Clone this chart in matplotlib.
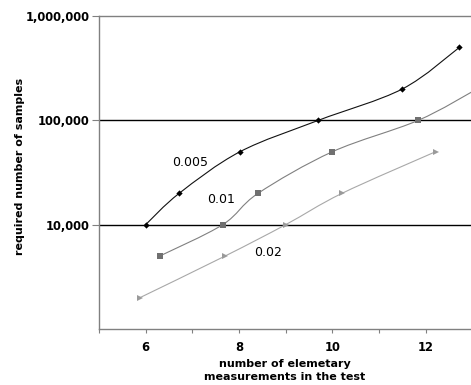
import numpy as np
import matplotlib
matplotlib.use("Agg")
import matplotlib.pyplot as plt
from matplotlib.path import Path
from matplotlib.patches import PathPatch
from matplotlib.ticker import FixedLocator, FuncFormatter, NullLocator

# valores
x_005 = [6.0, 6.72, 8.02, 9.7, 11.5, 12.72]
y_005 = [10000, 20000, 50000, 100000, 200000, 500000]
x_01 = [6.3, 7.65, 8.41, 10.0, 11.84, 13.1]
y_01 = [5000, 10000, 20000, 50000, 100000, 200000]
x_02 = [5.88, 7.7, 9.0, 10.21, 12.21]
y_02 = [2000, 5000, 10000, 20000, 50000]
series_labels = ["0.005", "0.01", "0.02"]
y_ticks = [10000, 100000, 1000000]
x_labeled = [6, 8, 10, 12]


def curva_suave(xs, ys):
    # linha suavizada (estilo Excel) com Bezier em (x, log y)
    pts = np.column_stack([xs, np.log10(ys)])
    verts = [pts[0]]
    codes = [Path.MOVETO]
    n = len(pts)
    for i in range(n - 1):
        p0 = pts[i - 1] if i > 0 else pts[i]
        p1 = pts[i]
        p2 = pts[i + 1]
        p3 = pts[i + 2] if i + 2 < n else pts[i + 1]
        verts += [p1 + (p2 - p0) / 6, p2 - (p3 - p1) / 6, p2]
        codes += [Path.CURVE4] * 3
    verts = np.array(verts)
    verts[:, 1] = 10 ** verts[:, 1]
    return Path(verts, codes)


fig = plt.figure(figsize=(4.71, 3.85), dpi=100)
ax = fig.add_axes([0.2102, 0.1455, 0.7898, 0.8129])
ax.set_yscale("log")
ax.set_xlim(5, 12.97)
ax.set_ylim(1000, 1000000)

ax.axhline(10000, color="black", lw=1.0, zorder=1)
ax.axhline(100000, color="black", lw=1.0, zorder=1)

estilos = [
    (x_005, y_005, "#111111", "#000000", "D", 3.2),
    (x_01, y_01, "#808080", "#707070", "s", 4.5),
    (x_02, y_02, "#a8a8a8", "#9a9a9a", ">", 4.5),
]
for xs, ys, cor_linha, cor_marca, marca, tam in estilos:
    ax.add_patch(PathPatch(curva_suave(xs, ys), fill=False, edgecolor=cor_linha,
                           lw=0.8, zorder=2))
    ax.plot(xs, ys, ls="none", marker=marca, ms=tam, color=cor_marca,
            markeredgewidth=0, zorder=3)

ax.text(6.95, 39000, series_labels[0], fontsize=9, ha="center", va="center")
ax.text(7.62, 17250, series_labels[1], fontsize=9, ha="center", va="center")
ax.text(8.62, 5350, series_labels[2], fontsize=9, ha="center", va="center")

for lado in ["left", "bottom", "top"]:
    ax.spines[lado].set_color("#808080")
    ax.spines[lado].set_linewidth(1.0)
ax.spines["right"].set_visible(False)

ax.yaxis.set_major_locator(FixedLocator(y_ticks))
ax.yaxis.set_minor_locator(NullLocator())
ax.yaxis.set_major_formatter(FuncFormatter(lambda v, p: f"{v:,.0f}"))
ax.tick_params(axis="y", length=5, width=0.8, color="#808080", pad=2)

ax.xaxis.set_major_locator(FixedLocator(np.arange(5, 13)))
ax.xaxis.set_major_formatter(FuncFormatter(lambda v, p: f"{v:.0f}" if round(v) in x_labeled else ""))
ax.tick_params(axis="x", length=3, width=0.8, color="#808080", pad=6)

for lab in ax.get_xticklabels() + ax.get_yticklabels():
    lab.set_fontsize(8.3)
    lab.set_fontweight("bold")

ax.set_ylabel("required number of samples", fontsize=8, fontweight="bold")
ax.yaxis.set_label_coords(-0.2, 0.52)
ax.set_xlabel("number of elemetary\nmeasurements in the test", fontsize=8,
              fontweight="bold", linespacing=1.45)
ax.xaxis.set_label_coords(0.5, -0.095)

fig.savefig("out.png", dpi=100)
